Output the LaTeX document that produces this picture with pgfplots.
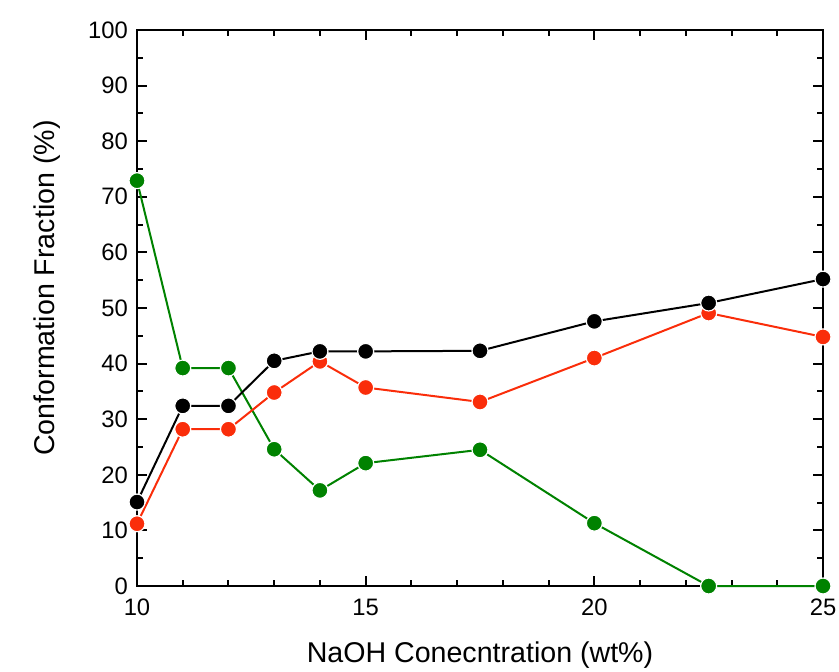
\documentclass[border=0pt]{standalone}
\usepackage{fontspec}
\setmainfont{Liberation Sans}
\usepackage{pgfplots}
\pgfplotsset{compat=1.18}
\definecolor{myred}{RGB}{250,45,10}
\definecolor{mygreen}{RGB}{0,130,0}
\begin{document}
\begin{tikzpicture}
\path[use as bounding box] (-68.5pt,-42.5pt) rectangle (351pt,293pt);
\begin{axis}[
  anchor=south west, at={(0,0)},
  scale only axis, width=343pt, height=278pt,
  xmin=10, xmax=25, ymin=0, ymax=100,
  xtick={10,15,20,25}, ytick={0,10,...,100},
  minor xtick={11,12,13,14,16,17,18,19,21,22,23,24},
  minor ytick={5,15,...,95},
  tick align=inside,
  major tick length=5pt, minor tick length=3pt,
  every tick/.style={black, line width=1pt},
  axis line style={line width=1pt},
  tick label style={font=\fontsize{11.9}{13}\selectfont},
  /pgf/number format/assume math mode=true,
  xticklabel style={yshift=-3pt},
  yticklabel style={xshift=-1pt},
  label style={font=\fontsize{14.3}{16}\selectfont},
  xlabel={NaOH Conecntration (wt\%)},
  ylabel={Conformation Fraction (\%)},
  xlabel style={yshift=-6pt},
  ylabel style={yshift=7pt, xshift=10pt},
  clip=false,
]
\addplot[mygreen, line width=1pt, mark=*, mark size=4pt, mark options={fill=mygreen, draw=white, line width=0.6pt}] coordinates {
(10,72.9) (11,39.2) (12,39.2) (13,24.6) (14,17.2) (15,22.1) (17.5,24.5) (20,11.3) (22.5,0) (25,0)};
\addplot[myred, line width=1pt, mark=*, mark size=4pt, mark options={fill=myred, draw=white, line width=0.6pt}] coordinates {
(10,11.2) (11,28.2) (12,28.2) (13,34.8) (14,40.4) (15,35.7) (17.5,33.1) (20,41.0) (22.5,49.1) (25,44.8)};
\addplot[black, line width=1pt, mark=*, mark size=4pt, mark options={fill=black, draw=white, line width=0.6pt}] coordinates {
(10,15.1) (11,32.4) (12,32.4) (13,40.5) (14,42.2) (15,42.2) (17.5,42.3) (20,47.6) (22.5,50.9) (25,55.2)};
\end{axis}
\end{tikzpicture}
\end{document}
